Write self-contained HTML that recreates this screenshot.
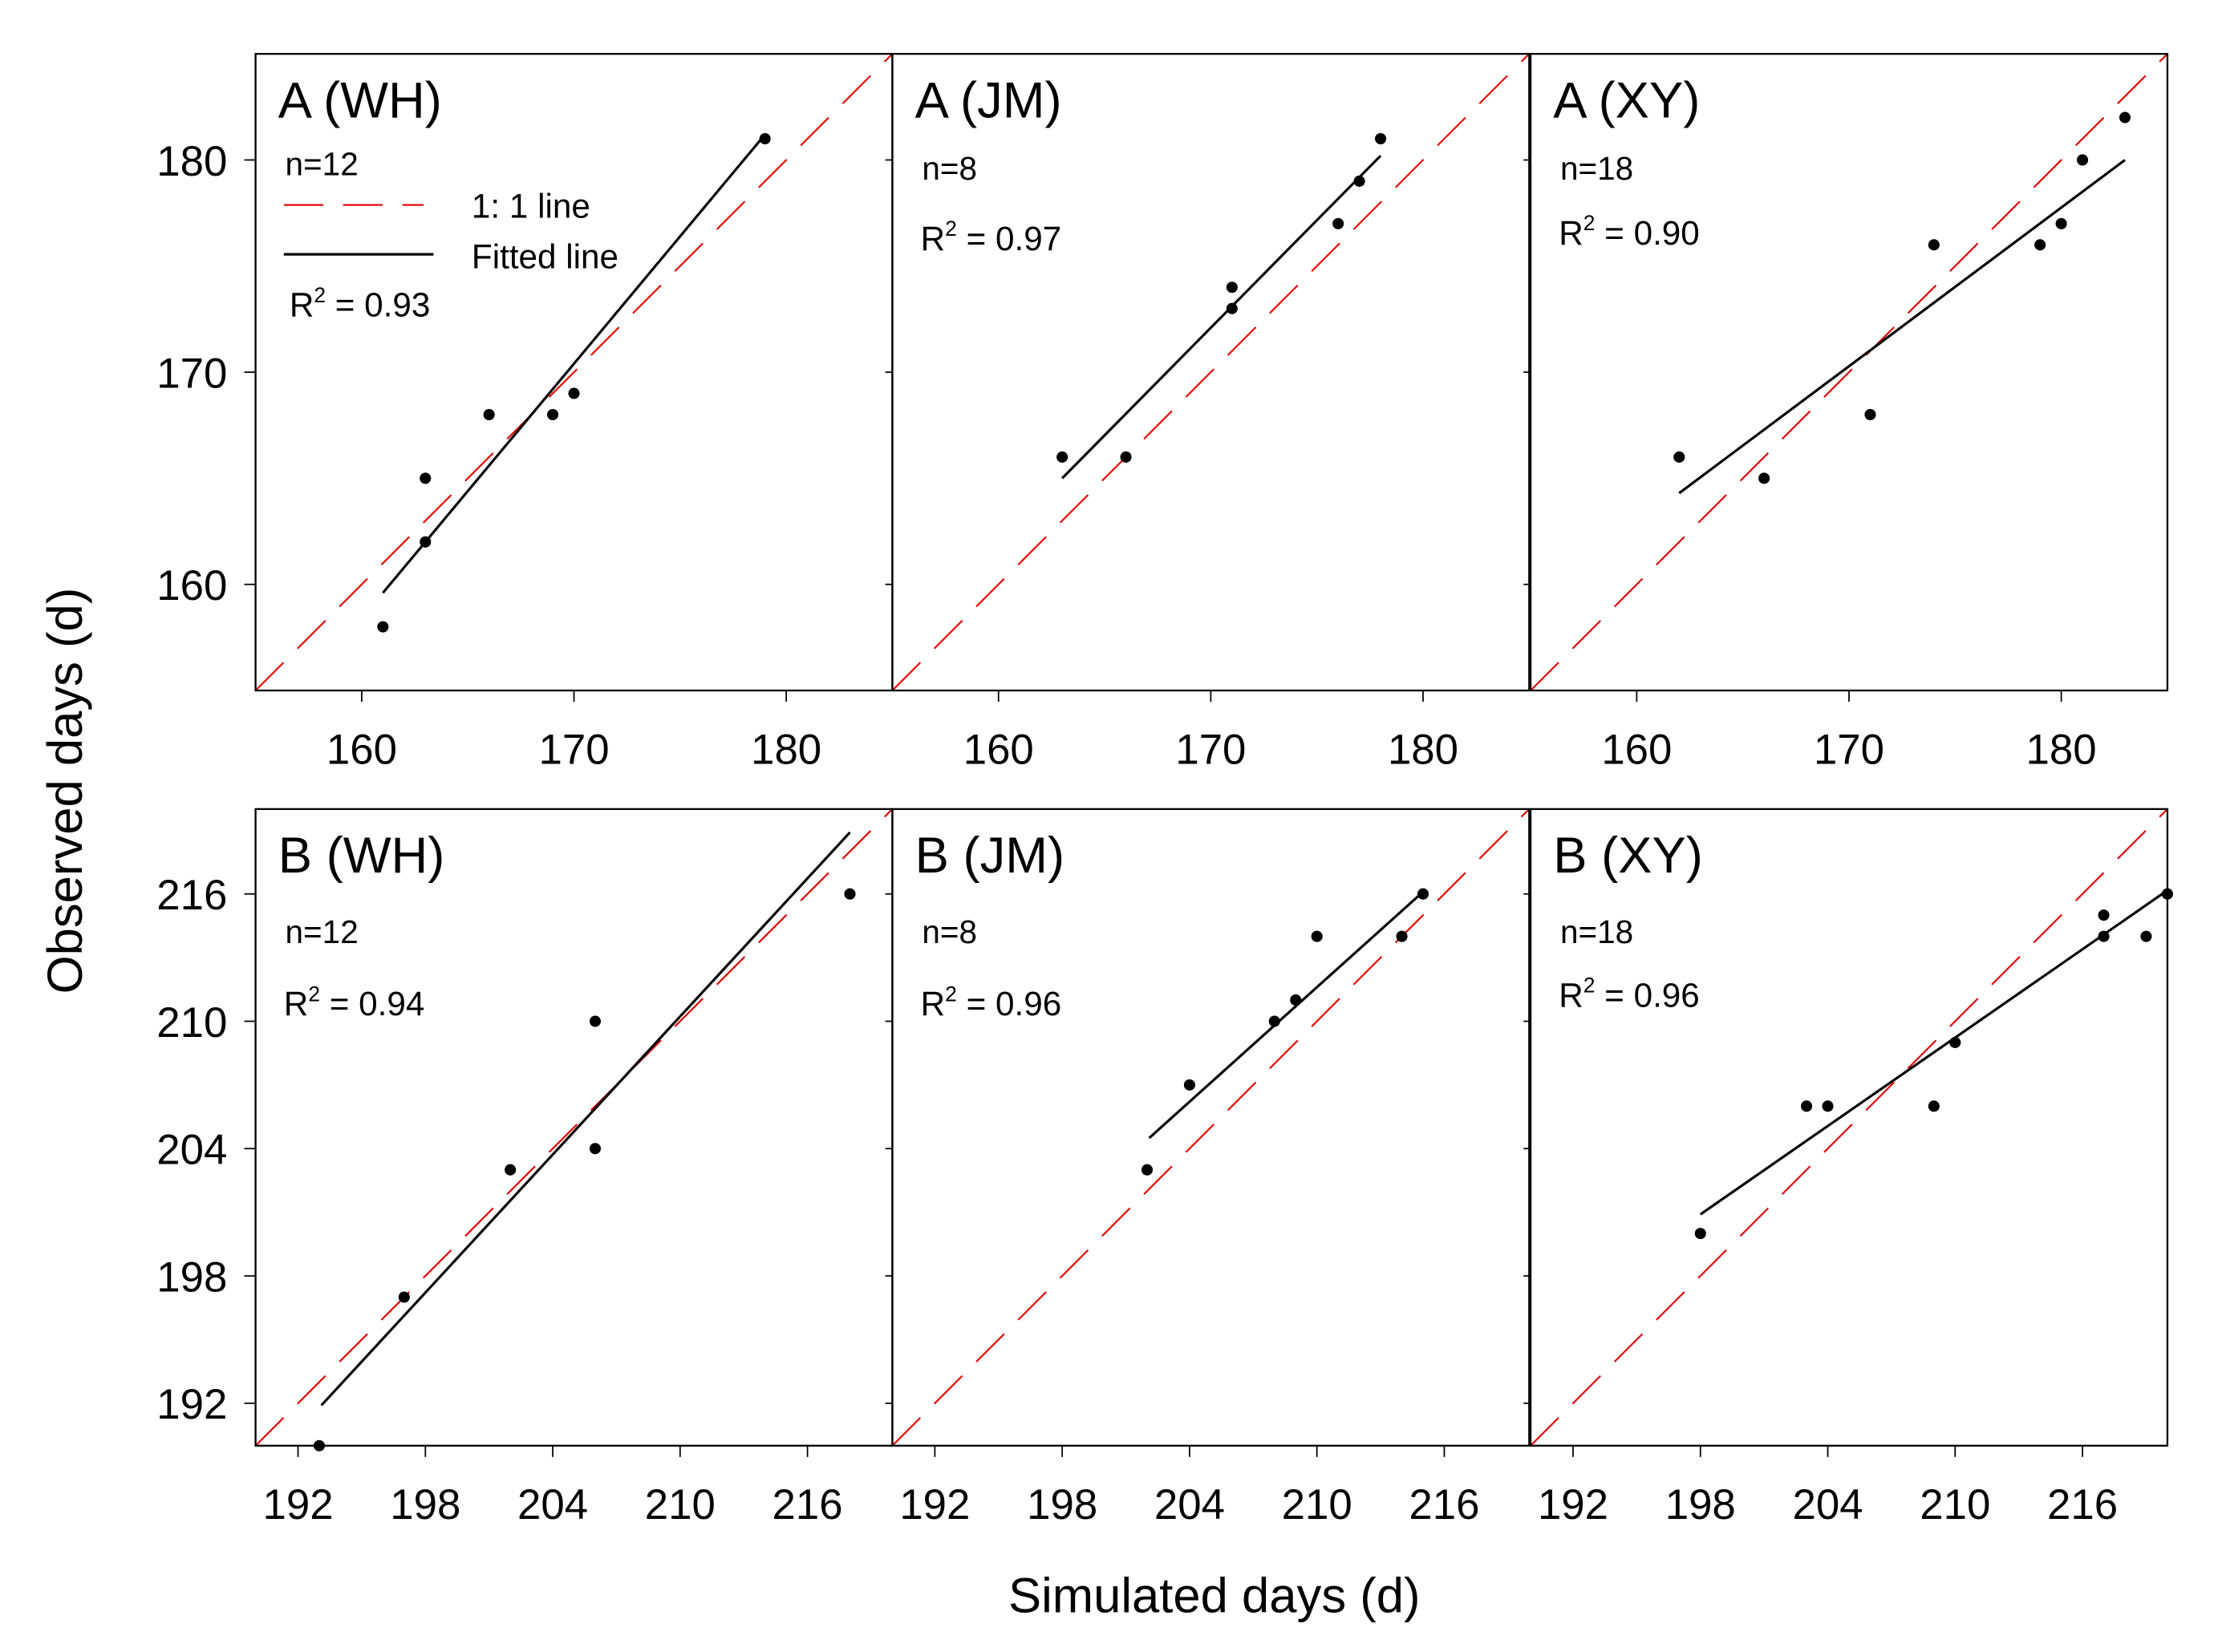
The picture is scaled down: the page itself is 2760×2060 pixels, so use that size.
<!DOCTYPE html>
<html><head><meta charset="utf-8"><style>
html,body{margin:0;padding:0;background:#fff}
svg{display:block;font-family:"Liberation Sans",Arial,sans-serif}
</style></head><body>
<svg id="chart" width="2760" height="2060" viewBox="0 0 1568 1170" xmlns="http://www.w3.org/2000/svg">
<text x="0" y="0" transform="translate(58,560) rotate(-90)" font-size="35" text-anchor="middle">Observed days (d)</text>
<text x="860" y="1142" font-size="35" text-anchor="middle">Simulated days (d)</text>
</svg>
<script>
const panelTitles=["A (WH)","A (JM)","A (XY)","B (WH)","B (JM)","B (XY)"];
const panelN=["n=12","n=8","n=18","n=12","n=8","n=18"];
const panelR2=["0.93","0.97","0.90","0.94","0.96","0.96"];
const topTicks=[160,170,180];
const botTicks=[192,198,204,210,216];
const xs0=[161,163,163,166,169,170,179];
const ys0=[158,165,162,168,168,169,181];
const xs1=[163,166,171,171,176,177,178];
const ys1=[166,166,174,173,177,179,181];
const xs2=[162,166,171,174,179,180,181,183];
const ys2=[166,165,168,176,176,177,180,182];
const xs3=[193,197,202,206,206,218];
const ys3=[190,197,203,210,204,216];
const xs4=[202,204,208,209,210,214,215];
const ys4=[203,207,210,211,214,214,216];
const xs5=[198,203,204,209,210,217,217,219,220];
const ys5=[200,206,206,206,209,215,214,214,216];
const fitX=[[161,179],[163,178],[162,183],[193.1,218],[202.1,215],[198,219.9]];
const fitY=[[159.6,181.2],[165,180.2],[164.3,180],[191.9,218.9],[204.5,216.1],[200.9,216.1]];
const allX=[xs0,xs1,xs2,xs3,xs4,xs5], allY=[ys0,ys1,ys2,ys3,ys4,ys5];

const NS="http://www.w3.org/2000/svg";
const svg=document.getElementById('chart');
function mk(tag,attrs,parent){const e=document.createElementNS(NS,tag);for(const k in attrs)e.setAttribute(k,attrs[k]);(parent||svg).appendChild(e);return e;}
const colX=[181,632,1084], W=451, rowY=[38,573], H=451;
const defs=mk('defs',{});
for(let p=0;p<6;p++){
  const r=Math.floor(p/3), c=p%3;
  const L=colX[c], T=rowY[r];
  const d0= r===0?155:190, d1=r===0?185:220;
  const sx=v=>L+(v-d0)/(d1-d0)*W;
  const sy=v=>T+H-(v-d0)/(d1-d0)*H;
  const cp=mk('clipPath',{id:'cp'+p},defs); mk('rect',{x:L,y:T,width:W,height:H},cp);
  const g=mk('g',{});
  
  
  const one=mk('line',{x1:sx(d0),y1:sy(d0),x2:sx(d1),y2:sy(d1),stroke:'#e00000','stroke-width':1.2,'stroke-dasharray':'28 14','clip-path':'url(#cp'+p+')'},g);
  
  
  const fl=mk('line',{x1:sx(fitX[p][0]),y1:sy(fitY[p][0]),x2:sx(fitX[p][1]),y2:sy(fitY[p][1]),stroke:'#000','stroke-width':1.8},g);
  
  
  for(let i=0;i<allX[p].length;i++){
    const pt=mk('circle',{cx:sx(allX[p][i]),cy:sy(allY[p][i]),r:4,fill:'#000'},g);
    
    
  }
  const fr=mk('rect',{x:L,y:T,width:W,height:H,fill:'none',stroke:'#000','stroke-width':1.3},g);
  
  
  const xt=r===0?topTicks:botTicks;
  xt.forEach(v=>{
    mk('line',{x1:sx(v),y1:T+H,x2:sx(v),y2:T+H+8,stroke:'#000','stroke-width':1},g);
    const t=mk('text',{x:sx(v),y:T+H+52,'font-size':30,'text-anchor':'middle'},g);
    t.textContent=v;
    
    
  });
  xt.forEach(v=>{
    mk('line',{x1:L-(c===0?8:5),y1:sy(v),x2:L,y2:sy(v),stroke:'#000','stroke-width':1},g);
    if(c===0){
      const t=mk('text',{x:L-20,y:sy(v)+11,'font-size':30,'text-anchor':'end'},g);
      t.textContent=v;
      
      
    }
  });
  const ti=mk('text',{x:L+16,y:T+45,'font-size':36},g);
  ti.textContent=panelTitles[p];
  
  
  const legend=(p===0);
  const nt=mk('text',{x:L+21,y:T+(r===0?(legend?86:89):95),'font-size':23},g);
  nt.textContent=panelN[p];
  
  
  const ry= legend?T+186:(r===0?T+(c===2?135:139):T+(c===2?140:146));
  const rt=mk('text',{x:L+(legend?24:20),y:ry,'font-size':24},g);
  rt.innerHTML='R<tspan dy="-10" font-size="15">2</tspan><tspan dy="10"> = '+panelR2[p]+'</tspan>';
  
  
  if(legend){
    const lg=mk('g',{},g);
    
    
    mk('line',{x1:201,y1:145,x2:300,y2:145,stroke:'#e00000','stroke-width':1.2,'stroke-dasharray':'28 14'},lg);
    const t1=mk('text',{x:334,y:154,'font-size':24},lg); t1.textContent='1:  1 line';
    
    
    mk('line',{x1:201,y1:180,x2:307,y2:180,stroke:'#000','stroke-width':1.8},lg);
    const t2=mk('text',{x:334,y:190,'font-size':24},lg); t2.textContent='Fitted line';
    
    
  }
}
</script>
</body></html>
